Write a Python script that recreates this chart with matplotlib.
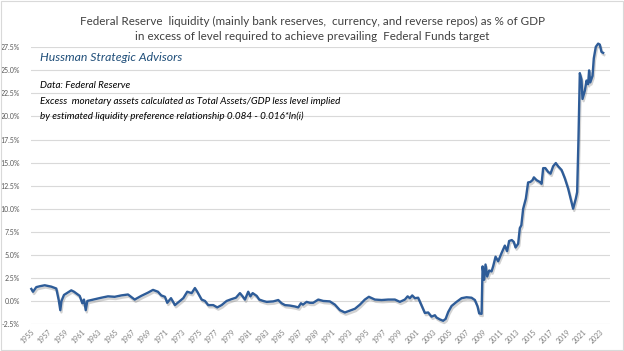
"""
Federal Reserve excess liquidity as % of GDP, 1955-2023 (values read off the chart).
"""

import matplotlib
matplotlib.use("Agg")
import matplotlib.pyplot as plt
import matplotlib.patheffects as pe
from matplotlib.ticker import FuncFormatter, MultipleLocator

plt.rcParams["font.family"] = ["Lato", "DejaVu Sans"]

TITLE = ("Federal Reserve  liquidity (mainly bank reserves,  currency, and reverse repos) as % of GDP\n"
         "in excess of level required to achieve prevailing  Federal Funds target")
BRAND = "Hussman Strategic Advisors"
NOTES = ["Data: Federal Reserve",
         "Excess  monetary assets calculated as Total Assets/GDP less level implied",
         "by estimated liquidity preference relationship 0.084 - 0.016*ln(i)"]

years = [1955.04, 1955.24, 1955.63, 1956.08, 1956.64, 1957.43, 1958.02, 1958.31, 1958.50, 1958.64,
         1958.94, 1959.81, 1960.14, 1960.82, 1961.13, 1961.33, 1961.54, 1961.73, 1962.20, 1963.40,
         1964.20, 1965.00, 1965.79, 1966.59, 1967.39, 1968.18, 1968.98, 1969.58, 1970.17, 1970.57,
         1971.01, 1971.28, 1971.73, 1972.20, 1972.80, 1973.20, 1973.67, 1974.20, 1974.59, 1974.87,
         1975.39, 1975.79, 1976.18, 1976.78, 1977.26, 1977.78, 1978.38, 1978.98, 1979.49, 1979.97,
         1980.29, 1980.57, 1980.96, 1981.22, 1981.49, 1981.97, 1982.28, 1982.75, 1983.16, 1983.95,
         1984.55, 1984.95, 1985.35, 1985.94, 1986.54, 1986.94, 1987.26, 1987.50, 1987.94, 1988.33,
         1988.73, 1989.33, 1989.92, 1990.72, 1991.32, 1991.92, 1992.51, 1993.11, 1993.71, 1994.31,
         1994.90, 1995.38, 1996.10, 1996.90, 1997.69, 1998.49, 1999.09, 1999.68, 2000.01, 2000.28,
         2000.56, 2000.88, 2001.27, 2001.68, 2002.07, 2002.47, 2002.87, 2003.27, 2003.47, 2003.86,
         2004.26, 2004.55, 2004.86, 2005.26, 2005.86, 2006.46, 2007.05, 2007.65, 2008.05, 2008.37,
         2008.56, 2008.85, 2008.97, 2009.16, 2009.32, 2009.52, 2009.76, 2010.04, 2010.23, 2010.52,
         2010.83, 2011.24, 2011.63, 2011.90, 2012.14, 2012.46, 2012.70, 2012.91, 2013.22, 2013.42,
         2013.60, 2013.82, 2014.14, 2014.41, 2014.68, 2014.94, 2015.10, 2015.42, 2015.81, 2016.02,
         2016.21, 2016.47, 2016.80, 2017.09, 2017.40, 2017.72, 2018.00, 2018.41, 2018.80, 2019.19,
         2019.60, 2019.79, 2020.11, 2020.27, 2020.43, 2020.59, 2020.79, 2020.91, 2021.19, 2021.39,
         2021.58, 2021.70, 2021.84, 2022.11, 2022.26, 2022.50, 2022.78, 2022.98, 2023.18, 2023.38]

excess_pct = [1.3, 1.0, 1.5, 1.6, 1.7, 1.55, 1.35, 0.1, -1.0, 0.0,
              0.65, 1.15, 1.0, 0.55, -0.25, 0.15, -1.0, 0.0, 0.1, 0.35,
              0.5, 0.45, 0.6, 0.7, 0.15, 0.55, 0.9, 1.2, 1.0, 0.6,
              0.45, -0.2, 0.3, -0.45, 0.0, 0.3, 1.0, 0.85, 1.4, 1.0,
              0.15, 0.0, -0.45, -0.45, -0.7, -0.45, 0.0, 0.2, 0.35, 0.85,
              0.5, 0.15, 1.0, 0.5, 0.85, 0.55, 0.15, 0.0, -0.1, -0.05,
              0.1, -0.25, -0.45, -0.5, -0.6, -0.7, -0.25, -0.4, -0.1, -0.2,
              -0.2, 0.15, 0.0, -0.05, -0.4, -1.0, -1.25, -1.05, -0.85, -0.4,
              0.15, 0.45, 0.15, 0.1, 0.15, 0.15, -0.1, 0.15, 0.5, 0.3,
              0.6, 0.3, 0.35, -0.5, -1.3, -1.25, -1.7, -1.55, -1.8, -2.0,
              -2.15, -1.95, -1.2, -0.55, -0.1, 0.3, 0.4, 0.35, 0.1, -0.6,
              -1.35, -1.4, 3.75, 2.3, 3.95, 2.65, 3.3, 3.2, 3.75, 4.8,
              4.3, 5.2, 6.0, 5.4, 6.5, 6.6, 6.4, 5.8, 6.2, 7.9,
              8.2, 10.0, 11.1, 12.85, 12.9, 13.1, 13.4, 13.1, 12.9, 12.7,
              14.4, 14.4, 14.0, 13.8, 14.6, 14.95, 14.6, 14.2, 13.3, 12.2,
              10.7, 10.0, 11.1, 11.8, 17.6, 24.7, 24.0, 21.9, 22.8, 23.9,
              23.5, 25.0, 23.7, 24.4, 26.3, 27.55, 27.9, 27.8, 27.0, 26.9]

tick_years = list(range(1955, 2024, 2))

fig = plt.figure(figsize=(6.24, 3.51), dpi=100)
ax = fig.add_axes([0.0497, 0.0769, 0.9279, 0.7883])

ax.plot(years, excess_pct, color="#2E5C98", lw=1.7, clip_on=False, solid_joinstyle="round",
        path_effects=[pe.SimpleLineShadow(offset=(0.8, -1.6), shadow_color="#7f7f7f", alpha=0.35),
                      pe.Normal()])

ax.set_xlim(1955, 2024.2)
ax.set_ylim(-2.5, 27.5)
ax.yaxis.set_major_locator(MultipleLocator(2.5))
ax.yaxis.set_major_formatter(FuncFormatter(lambda v, _: f"{v:.1f}%"))
ax.set_xticks(tick_years)
ax.set_xticklabels([str(y) for y in tick_years], rotation=45, ha="right",
                   rotation_mode="anchor", fontsize=5, color="#7f7f7f")
ax.tick_params(axis="y", labelsize=5, labelcolor="#595959", length=0, pad=8)
ax.tick_params(axis="x", length=0, pad=3)
ax.grid(axis="y", color="#D9D9D9", lw=0.8)
ax.set_axisbelow(True)
for s in ax.spines.values():
    s.set_visible(False)

fig.text(0.5, 0.955, TITLE, ha="center", va="top", fontsize=8.4, color="#404040", linespacing=1.5)
fig.text(0.064, 0.835, BRAND, ha="left", va="center", fontsize=8.8, style="italic", color="#1F4E79")
for i, line in enumerate(NOTES):
    fig.text(0.064, 0.755 - i * 0.043, line, ha="left", va="center", fontsize=7.1,
             style="italic", color="#000000")

fig.patches.append(plt.Rectangle((0.001, 0.002), 0.997, 0.995, transform=fig.transFigure,
                                 fill=False, edgecolor="#D9D9D9", lw=0.8))

plt.savefig("out.png", dpi=100)
